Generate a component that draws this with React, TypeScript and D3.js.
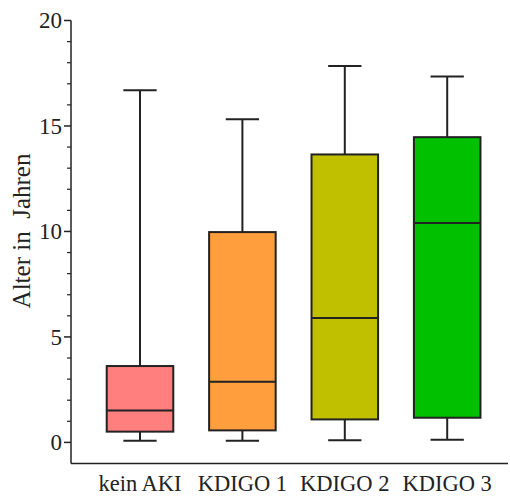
import React from 'react';
import * as d3 from 'd3';

const categories = ['kein AKI', 'KDIGO 1', 'KDIGO 2', 'KDIGO 3'];
const mins = [0.08, 0.08, 0.1, 0.13];
const q1s = [0.51, 0.57, 1.09, 1.17];
const medians = [1.51, 2.88, 5.9, 10.4];
const q3s = [3.62, 9.97, 13.65, 14.47];
const maxs = [16.69, 15.32, 17.84, 17.35];
const colors = ['#ff7f7f', '#ff9e3d', '#c0c000', '#00c000'];
const majorTicks = [0, 5, 10, 15, 20];

const App = () => {
  const width = 510;
  const height = 497;
  const y = d3.scaleLinear().domain([-1, 20]).range([463.5, 20.5]);
  const x = d3.scaleBand().domain(categories).range([88.8, 498.4]).paddingInner(0.35).paddingOuter(0.175);
  const minorTicks = d3.range(0, 21, 1).filter((v) => v % 5 !== 0);
  const stroke = '#222';
  const font = 'Liberation Serif, DejaVu Serif, serif';

  const rows = categories.map((c, i) => ({
    name: c,
    min: mins[i],
    q1: q1s[i],
    median: medians[i],
    q3: q3s[i],
    max: maxs[i],
    color: colors[i],
  }));

  return (
    <svg width={width} height={height} style={{ position: 'absolute', left: 0, top: 0, fontFamily: font }}>
      {/* axes */}
      <line x1={71} x2={71} y1={y(20)} y2={y(-1)} stroke={stroke} strokeWidth={1.5} />
      <line x1={71} x2={508} y1={y(-1)} y2={y(-1)} stroke={stroke} strokeWidth={1.5} />
      {majorTicks.map((t) => (
        <g key={t}>
          <line x1={64} x2={71} y1={y(t)} y2={y(t)} stroke={stroke} strokeWidth={1.5} />
          <text x={62} y={y(t)} dy="0.34em" textAnchor="end" fontSize={23} fill="#222">
            {t}
          </text>
        </g>
      ))}
      {minorTicks.map((t) => (
        <line key={t} x1={67} x2={71} y1={y(t)} y2={y(t)} stroke={stroke} strokeWidth={1.2} />
      ))}
      <text
        transform={`translate(30,231) rotate(-90)`}
        textAnchor="middle"
        fontSize={25}
        fill="#222"
        style={{ whiteSpace: 'pre' }}
      >
        {'Alter in  Jahren'}
      </text>

      {/* boxes */}
      {rows.map((d) => {
        const bx = x(d.name);
        const bw = x.bandwidth();
        const cx = bx + bw / 2;
        const cap = bw / 2;
        return (
          <g key={d.name}>
            <line x1={cx} x2={cx} y1={y(d.max)} y2={y(d.q3)} stroke={stroke} strokeWidth={2} />
            <line x1={cx} x2={cx} y1={y(d.q1)} y2={y(d.min)} stroke={stroke} strokeWidth={2} />
            <line x1={cx - cap / 2} x2={cx + cap / 2} y1={y(d.max)} y2={y(d.max)} stroke={stroke} strokeWidth={2} />
            <line x1={cx - cap / 2} x2={cx + cap / 2} y1={y(d.min)} y2={y(d.min)} stroke={stroke} strokeWidth={2} />
            <rect x={bx} y={y(d.q3)} width={bw} height={y(d.q1) - y(d.q3)} fill={d.color} stroke={stroke} strokeWidth={2} />
            <line x1={bx} x2={bx + bw} y1={y(d.median)} y2={y(d.median)} stroke={stroke} strokeWidth={2} />
            <text x={cx} y={491} textAnchor="middle" fontSize={22.5} fill="#222">
              {d.name}
            </text>
          </g>
        );
      })}
    </svg>
  );
};

export default App;
